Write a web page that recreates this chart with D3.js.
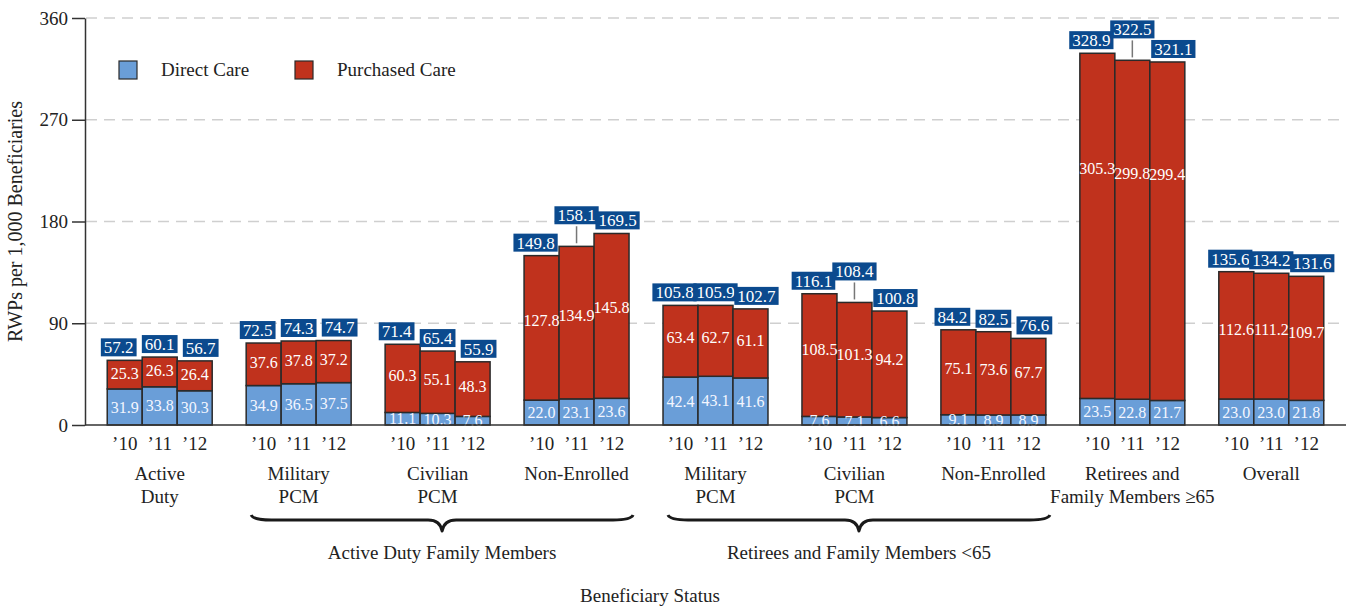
<!DOCTYPE html>
<html>
<head>
  <meta charset="utf-8">
  <script src="https://d3js.org/d3.v7.min.js"></script>
  <style>
    body { margin: 0; background: #fff; }
    svg text { font-family: "Liberation Serif", "DejaVu Serif", serif; }
  </style>
</head>
<body>
<div id="chart"></div>
<script>
  // groups and the years inside each group
  const groups = ["AD", "ADFM-MIL", "ADFM-CIV", "ADFM-NON", "RFM-MIL", "RFM-CIV", "RFM-NON", "RET65", "ALL"];
  const groupLabels = [["Active", "Duty"], ["Military", "PCM"], ["Civilian", "PCM"], ["Non-Enrolled"],
    ["Military", "PCM"], ["Civilian", "PCM"], ["Non-Enrolled"], ["Retirees and", "Family Members \u226565"], ["Overall"]];
  const years = ["\u201910", "\u201911", "\u201912"];

  const directCare = [
    [31.9, 33.8, 30.3], [34.9, 36.5, 37.5], [11.1, 10.3, 7.6], [22.0, 23.1, 23.6],
    [42.4, 43.1, 41.6], [7.6, 7.1, 6.6], [9.1, 8.9, 8.9], [23.5, 22.8, 21.7], [23.0, 23.0, 21.8]
  ];
  const purchasedCare = [
    [25.3, 26.3, 26.4], [37.6, 37.8, 37.2], [60.3, 55.1, 48.3], [127.8, 134.9, 145.8],
    [63.4, 62.7, 61.1], [108.5, 101.3, 94.2], [75.1, 73.6, 67.7], [305.3, 299.8, 299.4], [112.6, 111.2, 109.7]
  ];
  const totals = [
    [57.2, 60.1, 56.7], [72.5, 74.3, 74.7], [71.4, 65.4, 55.9], [149.8, 158.1, 169.5],
    [105.8, 105.9, 102.7], [116.1, 108.4, 100.8], [84.2, 82.5, 76.6], [328.9, 322.5, 321.1], [135.6, 134.2, 131.6]
  ];
  // total labels raised above their neighbours with a leader line [group, year]
  const liftedLabels = [[3, 1], [5, 1], [7, 1]];

  const superGroups = [
    { label: "Active Duty Family Members", from: 1, to: 3 },
    { label: "Retirees and Family Members <65", from: 4, to: 6 }
  ];
  const yTicks = [0, 90, 180, 270, 360];
  const series = ["Direct Care", "Purchased Care"];

  const width = 1346, height = 606;
  const colors = { direct: "#6a9ed8", purchased: "#c0321d", box: "#0b4a8e" };
  const labelSize = "19px", valueSize = "16px";

  const svg = d3.select("#chart").append("svg")
    .attr("width", width).attr("height", height);

  const y = d3.scaleLinear().domain([0, 360]).range([425, 18]);
  const xGroup = d3.scaleBand().domain(groups).range([85, 1346])
    .paddingInner(0.2446).paddingOuter(0.16);
  const xYear = d3.scaleBand().domain(years).range([0, xGroup.bandwidth()]);

  // gridlines
  svg.append("g").selectAll("line")
    .data(yTicks.filter(d => d > 0))
    .join("line")
    .attr("x1", 86).attr("x2", width)
    .attr("y1", d => y(d)).attr("y2", d => y(d))
    .attr("stroke", "#cfcfcf").attr("stroke-width", 1.5)
    .attr("stroke-dasharray", "11,7");

  // y axis
  const yAxis = svg.append("g")
    .attr("transform", "translate(85,0)")
    .call(d3.axisLeft(y).tickValues(yTicks).tickSize(13).tickPadding(4).tickSizeOuter(0));
  yAxis.selectAll("text").style("font-size", labelSize).attr("fill", "#222")
    .style("font-family", "Liberation Serif");
  yAxis.selectAll("line").attr("stroke", "#333").attr("stroke-width", 1.5);
  yAxis.select(".domain").attr("stroke", "#333").attr("stroke-width", 1.5);

  svg.append("text")
    .attr("transform", `translate(22,${y(180)}) rotate(-90)`)
    .attr("text-anchor", "middle")
    .style("font-size", "20px").attr("fill", "#222")
    .text("RWPs per 1,000 Beneficiaries");

  // bars
  const cells = [];
  groups.forEach((g, gi) => {
    years.forEach((yr, yi) => {
      cells.push({
        g, gi, yr, yi,
        direct: directCare[gi][yi],
        purchased: purchasedCare[gi][yi],
        total: totals[gi][yi],
        x: xGroup(g) + xYear(yr)
      });
    });
  });

  const barG = svg.append("g");
  barG.selectAll("rect.direct")
    .data(cells).join("rect").attr("class", "direct")
    .attr("x", d => d.x).attr("width", xYear.bandwidth())
    .attr("y", d => y(d.direct)).attr("height", d => y(0) - y(d.direct))
    .attr("fill", colors.direct).attr("stroke", "#2a2a2a").attr("stroke-width", 1.5);
  barG.selectAll("rect.purchased")
    .data(cells).join("rect").attr("class", "purchased")
    .attr("x", d => d.x).attr("width", xYear.bandwidth())
    .attr("y", d => y(d.direct + d.purchased)).attr("height", d => y(d.direct) - y(d.direct + d.purchased))
    .attr("fill", colors.purchased).attr("stroke", "#2a2a2a").attr("stroke-width", 1.5);

  // segment labels
  barG.selectAll("text.dl")
    .data(cells).join("text").attr("class", "dl")
    .attr("x", d => d.x + xYear.bandwidth() / 2)
    .attr("y", d => y(d.direct / 2))
    .attr("dy", "0.35em")
    .attr("text-anchor", "middle")
    .attr("fill", "#f4f6ff").style("font-size", valueSize)
    .text(d => d.direct.toFixed(1));
  // very tall segments carry their label higher up
  const labelFrac = d => d.purchased > 250 ? 0.667 : 0.55;
  barG.selectAll("text.pl")
    .data(cells).join("text").attr("class", "pl")
    .attr("x", d => d.x + xYear.bandwidth() / 2)
    .attr("y", d => y(d.direct + d.purchased * labelFrac(d)))
    .attr("dy", "0.35em")
    .attr("text-anchor", "middle")
    .attr("fill", "#fff").style("font-size", valueSize)
    .text(d => d.purchased.toFixed(1));

  // x axis baseline
  svg.append("line")
    .attr("x1", 85).attr("x2", width).attr("y1", y(0)).attr("y2", y(0))
    .attr("stroke", "#333").attr("stroke-width", 1.5);

  // total labels in boxes
  const offsets = [-6, 0, 6];
  const isLifted = d => liftedLabels.some(l => l[0] === d.gi && l[1] === d.yi);
  const totG = svg.append("g");
  cells.forEach(d => {
    const cx = d.x + xYear.bandwidth() / 2 + offsets[d.yi];
    const top = y(d.total);
    const bottom = top - (isLifted(d) ? 22 : 4);
    const gg = totG.append("g");
    const rect = gg.append("rect").attr("fill", colors.box);
    const t = gg.append("text")
      .attr("x", cx).attr("y", bottom - 9).attr("dy", "0.35em")
      .attr("text-anchor", "middle").attr("fill", "#fff")
      .style("font-size", "17px")
      .text(d.total.toFixed(1));
    const w = t.node().getComputedTextLength() + 6;
    rect.attr("x", cx - w / 2).attr("y", bottom - 18).attr("width", w).attr("height", 18);
    if (isLifted(d)) {
      gg.append("line")
        .attr("x1", d.x + xYear.bandwidth() / 2).attr("x2", d.x + xYear.bandwidth() / 2)
        .attr("y1", bottom + 2).attr("y2", top - 3)
        .attr("stroke", "#777").attr("stroke-width", 1.5);
    }
  });

  // year ticks per group
  groups.forEach(g => {
    const ax = svg.append("g")
      .attr("transform", `translate(${xGroup(g)},${y(0)})`)
      .call(d3.axisBottom(xYear).tickSize(0).tickPadding(12));
    ax.select(".domain").remove();
    ax.selectAll("text").style("font-size", labelSize).attr("fill", "#222")
      .style("font-family", "Liberation Serif");
  });

  // group labels
  groups.forEach((g, gi) => {
    const cx = xGroup(g) + xGroup.bandwidth() / 2;
    groupLabels[gi].forEach((line, li) => {
      svg.append("text")
        .attr("x", cx).attr("y", 480 + li * 23)
        .attr("text-anchor", "middle")
        .style("font-size", labelSize).attr("fill", "#222")
        .text(line);
    });
  });

  // braces
  function bracePath(x1, x2, yTop) {
    const yMid = yTop + 5, yTip = yTop + 16, xm = (x1 + x2) / 2;
    return `M${x1},${yTop} Q${x1 + 2},${yMid} ${x1 + 20},${yMid} L${xm - 14},${yMid} Q${xm - 2},${yMid} ${xm},${yTip}` +
      ` Q${xm + 2},${yMid} ${xm + 14},${yMid} L${x2 - 20},${yMid} Q${x2 - 2},${yMid} ${x2},${yTop}`;
  }
  superGroups.forEach(s => {
    const x1 = xGroup(groups[s.from]) + 5;
    const x2 = xGroup(groups[s.to]) + xGroup.bandwidth() + 4;
    svg.append("path")
      .attr("d", bracePath(x1, x2, 515))
      .attr("fill", "none").attr("stroke", "#1a1a1a").attr("stroke-width", 3)
      .attr("stroke-linejoin", "round");
    svg.append("text")
      .attr("x", (x1 + x2) / 2).attr("y", 559)
      .attr("text-anchor", "middle")
      .style("font-size", labelSize).attr("fill", "#222")
      .text(s.label);
  });

  svg.append("text")
    .attr("x", 650).attr("y", 602)
    .attr("text-anchor", "middle")
    .style("font-size", labelSize).attr("fill", "#222")
    .text("Beneficiary Status");

  // legend
  const legend = svg.append("g");
  const legendX = [119, 295];
  series.forEach((s, i) => {
    legend.append("rect")
      .attr("x", legendX[i]).attr("y", 61).attr("width", 18).attr("height", 18)
      .attr("fill", i === 0 ? colors.direct : colors.purchased)
      .attr("stroke", "#2a2a2a").attr("stroke-width", 1.2);
    legend.append("text")
      .attr("x", legendX[i] + 42).attr("y", 76)
      .style("font-size", labelSize).attr("fill", "#222")
      .text(s);
  });
</script>
</body>
</html>
